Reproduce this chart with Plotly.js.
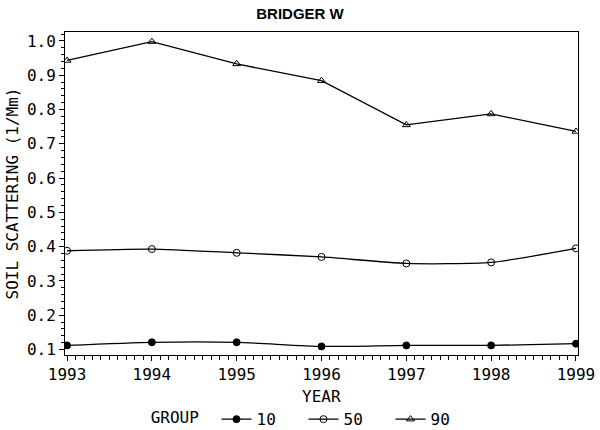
<!DOCTYPE html>
<html>
<head>
<meta charset="utf-8">
<script src="https://cdn.plot.ly/plotly-3.0.1.min.js"></script>
<style>
  html, body { margin: 0; padding: 0; background: #fff; }
  #chart { width: 600px; height: 430px; }
</style>
</head>
<body>
<div id="chart"></div>
<script>
const years = [1993, 1994, 1995, 1996, 1997, 1998, 1999];
const group10 = [0.112, 0.121, 0.121, 0.109, 0.112, 0.112, 0.117];
const group50 = [0.388, 0.393, 0.382, 0.370, 0.351, 0.354, 0.395];
const group90 = [0.943, 0.998, 0.933, 0.884, 0.755, 0.787, 0.736];
const groupNames = ["10", "50", "90"];

const monoFont = { family: "DejaVu Sans Mono", size: 16, color: "#000" };

function series(name, y, symbol, shape) {
  return {
    x: years,
    y: y,
    name: name,
    type: "scatter",
    mode: "lines+markers",
    line: { color: "#000", width: 1.3, shape: shape, smoothing: 0.6 },
    marker: { symbol: symbol, size: 7, color: "#000", line: { color: "#000", width: 1 } },
  };
}

const traces = [
  series(groupNames[0], group10, "circle", "spline"),
  series(groupNames[1], group50, "circle-open", "spline"),
  series(groupNames[2], group90, "triangle-up-open", "linear"),
];

const axisBase = {
  showline: true,
  linecolor: "#000",
  linewidth: 1,
  mirror: true,
  showgrid: false,
  zeroline: false,
  ticks: "outside",
  tickcolor: "#000",
  ticklen: 5,
  tickwidth: 1,
  tickfont: monoFont,
  automargin: false,
};

const layout = {
  width: 600,
  height: 430,
  margin: { l: 65, r: 22, t: 32, b: 75 },
  paper_bgcolor: "#fff",
  plot_bgcolor: "#fff",
  title: {
    text: "BRIDGER W",
    font: { family: "Liberation Sans", size: 15, color: "#000", weight: "bold" },
    x: 0.5,
    xref: "container",
    y: 0.967,
    yref: "container",
    yanchor: "middle",
  },
  xaxis: Object.assign({}, axisBase, {
    range: [1992.976, 1999.024],
    dtick: 1,
    tick0: 1993,
    minor: { dtick: 0.1, ticklen: 4, tickcolor: "#000", ticks: "outside", showgrid: false },
  }),
  yaxis: Object.assign({}, axisBase, {
    range: [0.084, 1.026],
    dtick: 0.1,
    tick0: 0.1,
    tickformat: ".1f",
    minor: { dtick: 0.02, ticklen: 3, tickcolor: "#000", ticks: "outside", showgrid: false },
    title: { text: "SOIL SCATTERING (1/Mm)", font: monoFont, standoff: 4 },
  }),
  annotations: [
    {
      text: "YEAR",
      xref: "paper",
      yref: "paper",
      x: 0.5,
      y: -0.13,
      xanchor: "center",
      yanchor: "middle",
      showarrow: false,
      font: monoFont,
    },
  ],
  showlegend: true,
  legend: {
    orientation: "h",
    xref: "container",
    yref: "container",
    x: 0.522,
    xanchor: "center",
    y: 0.025,
    yanchor: "middle",
    font: monoFont,
    title: { text: "GROUP ", font: monoFont, side: "left" },
    bgcolor: "rgba(0,0,0,0)",
    entrywidth: 42,
    itemwidth: 30,
  },
};

Plotly.newPlot("chart", traces, layout, { displayModeBar: false, staticPlot: true });
</script>
</body>
</html>
